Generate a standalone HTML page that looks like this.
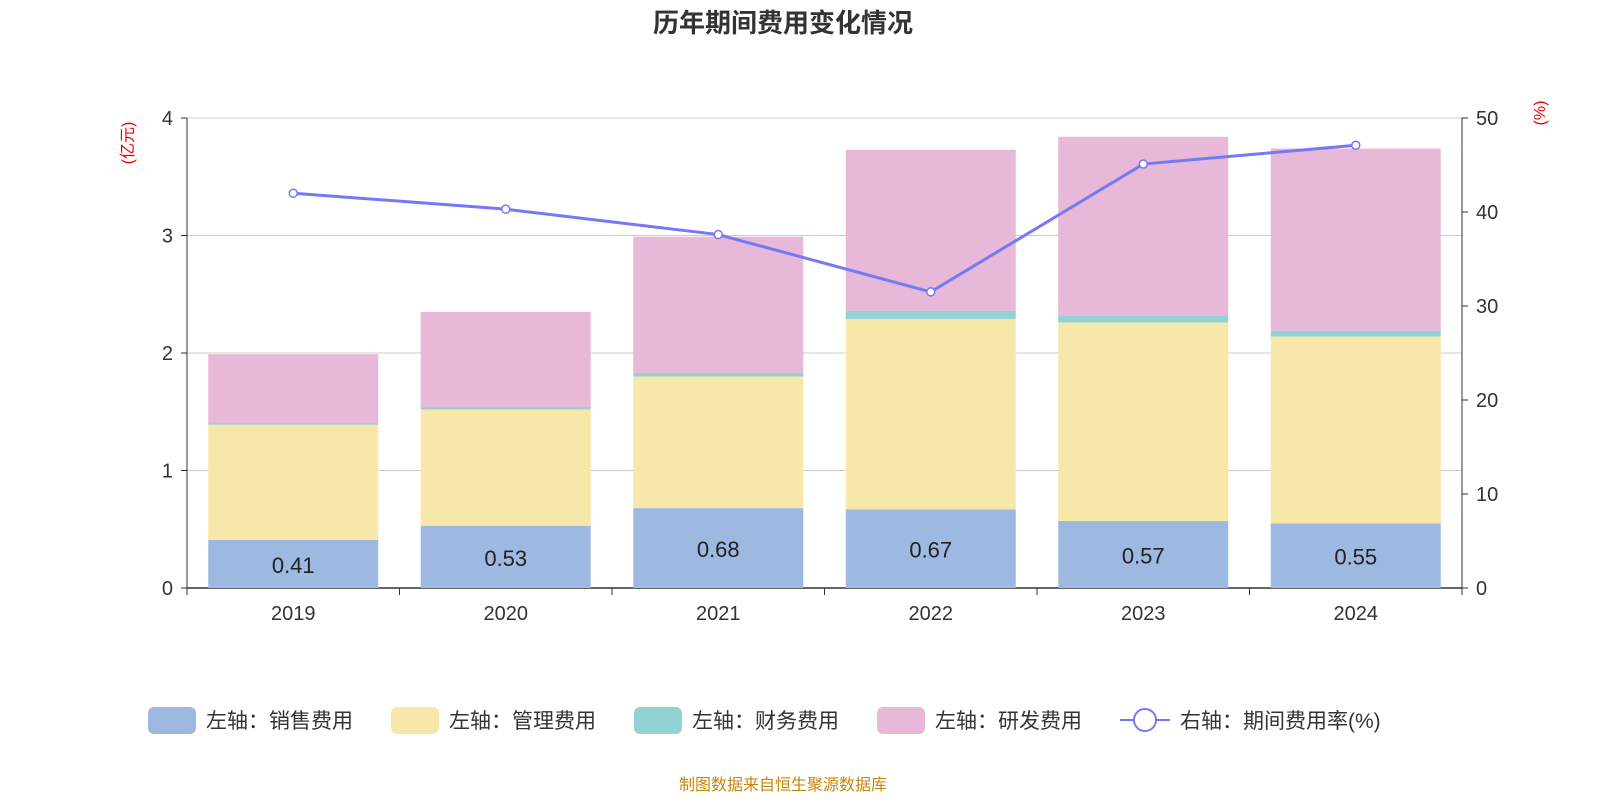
<!DOCTYPE html>
<html><head><meta charset="utf-8"><style>
body{margin:0;background:#fff;font-family:"Liberation Sans","Noto Sans CJK SC",sans-serif;}
svg text{font-family:"Liberation Sans","Noto Sans CJK SC",sans-serif;}
</style></head><body>
<svg id="c" width="1600" height="800" xmlns="http://www.w3.org/2000/svg">
<text x="783" y="32" text-anchor="middle" font-size="26" font-weight="bold" fill="#333">历年期间费用变化情况</text>
<text transform="translate(133,143) rotate(-90)" text-anchor="middle" font-size="16" fill="#e00">(亿元)</text>
<text transform="translate(1545,113) rotate(-90)" text-anchor="middle" font-size="16" fill="#e00">(%)</text>
<g id="grid"></g><g id="bars"></g><g id="line"></g><g id="axes"></g>
<g id="legend"></g>
<text x="783" y="790" text-anchor="middle" font-size="16" fill="#c8860a">制图数据来自恒生聚源数据库</text>
</svg>
<script>
const categories=["2019","2020","2021","2022","2023","2024"];
const sales=[0.41,0.53,0.68,0.67,0.57,0.55];
const mgmt=[0.98,0.99,1.12,1.62,1.69,1.59];
const fin=[0.01,0.02,0.03,0.07,0.06,0.05];
const rnd=[0.59,0.81,1.16,1.37,1.52,1.55];
const rate=[42.0,40.3,37.6,31.5,45.1,47.1];
const leftTicks=[0,1,2,3,4];
const rightTicks=[0,10,20,30,40,50];
const ns="http://www.w3.org/2000/svg";
const X0=187,X1=1462,Y0=588,Y1=118;
const bw=(X1-X0)/categories.length;
const yL=v=>Y0-(v/4)*(Y0-Y1);
const yR=v=>Y0-(v/50)*(Y0-Y1);
const xC=i=>X0+bw*(i+0.5);
function mk(tag,attrs,parent){const e=document.createElementNS(ns,tag);for(const k in attrs)e.setAttribute(k,attrs[k]);document.getElementById(parent).appendChild(e);return e;}
leftTicks.forEach(t=>{
 const g=mk("line",{x1:X0,x2:X1,y1:yL(t),y2:yL(t),stroke:t===0?"#333":"#ccc","stroke-width":t===0?1.5:1},"grid");
 
 
 const l=mk("text",{x:X0-14,y:yL(t)+7,"text-anchor":"end","font-size":20,fill:"#333"},"axes");l.textContent=t;
 
 
 mk("line",{x1:X0-6,x2:X0,y1:yL(t),y2:yL(t),stroke:"#333"},"axes");
});
rightTicks.forEach(t=>{
 const l=mk("text",{x:X1+14,y:yR(t)+7,"font-size":20,fill:"#333"},"axes");l.textContent=t;
 
 
 mk("line",{x1:X1,x2:X1+6,y1:yR(t),y2:yR(t),stroke:"#333"},"axes");
});
mk("line",{x1:X0,x2:X0,y1:Y1,y2:Y0,stroke:"#333"},"axes");
mk("line",{x1:X1,x2:X1,y1:Y1,y2:Y0,stroke:"#333"},"axes");
for(let i=0;i<=categories.length;i++)mk("line",{x1:X0+bw*i,x2:X0+bw*i,y1:Y0,y2:Y0+7,stroke:"#333"},"axes");
const series=[[sales,"#9db8e1"],[mgmt,"#f7e7a9"],[fin,"#92d2d2"],[rnd,"#e7b8d8"]];
const names=['sales','mgmt','finance','rnd'];
categories.forEach((c,i)=>{
 let base=0;
 series.forEach(([arr,col],s)=>{
  const r=mk("rect",{x:xC(i)-85,width:170,y:yL(base+arr[i]),height:yL(base)-yL(base+arr[i]),fill:col},"bars");
  
  
  base+=arr[i];
 });
 const v=mk("text",{x:xC(i),y:(yL(sales[i])+Y0)/2+9,"text-anchor":"middle","font-size":22,fill:"#222"},"bars");v.textContent=sales[i].toFixed(2);
 
 
 const xl=mk("text",{x:xC(i),y:620,"text-anchor":"middle","font-size":20,fill:"#333"},"axes");xl.textContent=c;
 
 
});
const pl=mk("polyline",{points:rate.map((v,i)=>xC(i)+","+yR(v)).join(" "),fill:"none",stroke:"#7479f4","stroke-width":3},"line");


rate.forEach((v,i)=>{const p=mk("circle",{cx:xC(i),cy:yR(v),r:4,fill:"#fff",stroke:"#7479f4","stroke-width":1.5},"line");
 
 });
const leg=[["左轴：销售费用","#9db8e1",148],["左轴：管理费用","#f7e7a9",391],["左轴：财务费用","#92d2d2",634],["左轴：研发费用","#e7b8d8",877]];
leg.forEach(([t,col,x])=>{
 const r=mk("rect",{x:x,y:707,width:48,height:27,rx:6,fill:col},"legend");
 
 
 const tx=mk("text",{x:x+58,y:728,"font-size":21,fill:"#333"},"legend");tx.textContent=t;
 
 
});
mk("line",{x1:1120,x2:1170,y1:720,y2:720,stroke:"#7479f4","stroke-width":2},"legend");
const lc=mk("circle",{cx:1145,cy:720,r:11,fill:"#fff",stroke:"#7479f4","stroke-width":2},"legend");


const lt=mk("text",{x:1180,y:728,"font-size":21,fill:"#333"},"legend");lt.textContent="右轴：期间费用率(%)";


</script>
</body></html>
